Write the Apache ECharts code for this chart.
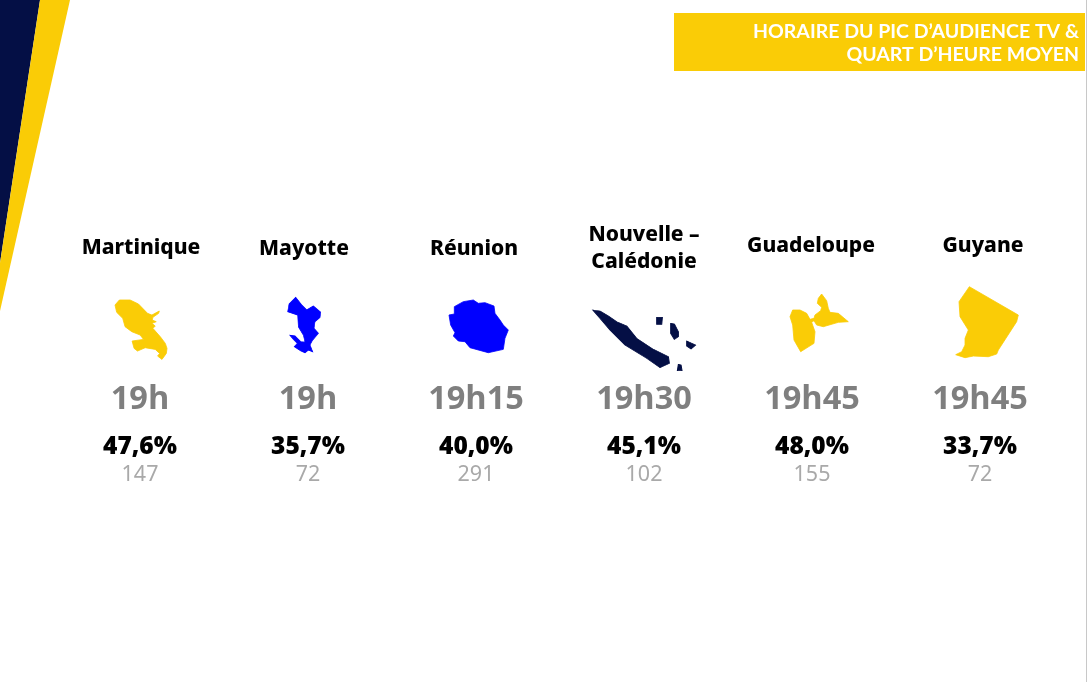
<!DOCTYPE html>
<html><head><meta charset="utf-8">
<style>html,body{margin:0;padding:0;background:#fff}#c{width:1087px;height:682px}</style>
<script src="https://cdn.jsdelivr.net/npm/echarts@6/dist/echarts.min.js"></script>
</head><body><div id="c"></div>
<script>
const territories = ['Martinique','Mayotte','Réunion','Nouvelle –\nCalédonie','Guadeloupe','Guyane'];
const peakTimes = ['19h','19h','19h15','19h30','19h45','19h45'];
const shares = [47.6,35.7,40.0,45.1,48.0,33.7];
const audiences = [147,72,291,102,155,72];
const titleText = 'HORAIRE DU PIC D’AUDIENCE TV &\nQUART D’HEURE MOYEN';

const NAVY='#040f45', YELLOW='#facc06', BLUE='#0000ff';
const outlines = [
 'M165 75L178 60L210 60L235 72L262 100L275 105L297 93L295 100L278 112L276 120L288 125L275 130L285 138L278 145L300 170L315 190L320 205L318 220L305 238L292 228L298 220L285 208L255 203L232 213L222 205L216 183L250 178L240 165L215 155L195 140L188 115L170 97Z',
 'M683 95L687 72L707 52L725 75L740 90L760 78L782 97L780 112L765 125L762 145L775 160L758 180L750 195L758 215L745 210L735 218L722 212L703 200L712 190L700 178L690 166L705 168L722 185L735 187L730 165L715 140L713 105Z',
 'M87 105L103 102L103 80L130 65L160 60L175 70L195 68L222 78L225 100L240 120L250 135L265 150L255 175L250 208L205 218L150 203L135 185L115 183L100 168L105 158L92 135Z',
 'M518 90L540 93L565 108L590 125L620 138L650 175L700 208L745 230L748 250L720 263L680 235L615 195L570 150L540 115ZM710 112L727 112L725 133L710 133ZM752 130L763 132L775 155L775 170L763 178L752 160ZM800 183L827 195L813 207L800 198ZM775 253L783 255L786 272L772 272Z',
 'M60 110L68 90L90 90L110 100L120 118L132 115L135 105L152 92L155 82L142 70L145 55L155 42L170 62L175 85L180 97L205 100L235 125L205 127L160 140L140 135L132 122L125 127L135 155L132 190L92 215L72 180L68 135Z',
 'M598 20L745 105L740 125L685 210L680 222L655 230L610 228L585 233L557 224L575 215L585 195L585 175L595 150L570 110L567 65Z'
];
const outlineColors=[YELLOW,BLUE,BLUE,NAVY,YELLOW,YELLOW];
const outlineBoxes=[[115,300,52,59.4],[287.7,297.3,33,55.4],[449,300,59.3,52.7],[592.7,310,103,60.7],[790,294,58.3,57.7],[955.7,286.7,62.6,71]];
const nameDx=[1,-4,-2,0,-1,3], nameY=[248,249,249,248.5,246,246];

const cx=i=>140+168*i;
const fmt=v=>v.toFixed(1).replace('.',',')+'%';
const hidden={color:'rgba(0,0,0,0)',opacity:1};
function textRow(name,labels,y,style){
  return {type:'scatter',name,symbolSize:1,itemStyle:hidden,silent:true,
    data:labels.map((t,i)=>({value:[i,y],label:{show:true,position:'inside',formatter:()=>t,...style}}))};
}
const chart=echarts.init(document.getElementById('c'),null,{renderer:'canvas'});
chart.setOption({
  animation:false,backgroundColor:'#fff',
  title:{text:titleText,left:1079,top:15,textAlign:'right',textStyle:{color:'#fff',fontFamily:'Lato',fontWeight:'bold',fontSize:19.5,lineHeight:23},z:5},
  grid:{left:56,width:1008,top:0,bottom:0},
  xAxis:{type:'category',data:territories,show:false},
  yAxis:{type:'value',min:0,max:682,inverse:true,show:false},
  graphic:[
    {type:'polygon',shape:{points:[[0,0],[40,0],[0,263]]},style:{fill:NAVY}},
    {type:'polygon',shape:{points:[[40,0],[70,0],[0,311],[0,263]]},style:{fill:YELLOW}},
    {type:'rect',shape:{x:674,y:13,width:411,height:58},style:{fill:YELLOW},z:-1},
    {type:'rect',shape:{x:1086,y:0,width:1,height:682},style:{fill:'#c8c8c8'}}
  ],
  series:[
    {type:'scatter',name:'Territoires',silent:true,
     data:territories.map((t,i)=>{const b=outlineBoxes[i];return {
       value:[i,b[1]+b[3]/2],symbol:'path://'+outlines[i],symbolSize:[b[2],b[3]],
       symbolOffset:[b[0]+b[2]/2-cx(i),0],itemStyle:{color:outlineColors[i],opacity:1,borderColor:outlineColors[i],borderWidth:0.8}};})},
    {type:'scatter',name:'Noms',symbolSize:1,silent:true,itemStyle:hidden,
     data:territories.map((t,i)=>({value:[i,nameY[i]],label:{show:true,position:'inside',offset:[nameDx[i],0],formatter:()=>t,
       color:'#000',fontFamily:'Noto Sans',fontWeight:800,fontSize:21,lineHeight:27}}))},
    textRow('Horaire',peakTimes,400,{color:'#7f7f7f',fontFamily:'Open Sans',fontWeight:700,fontSize:32.5}),
    textRow('Part',shares.map(fmt),447,{color:'#000',fontFamily:'Open Sans',fontWeight:800,fontSize:24.5}),
    textRow('Audience',audiences.map(String),474.5,{color:'#a9a9a9',fontFamily:'Noto Sans',fontSize:21.5})
  ]
});
chart.setOption({title:{left:1074}});
</script></body></html>
